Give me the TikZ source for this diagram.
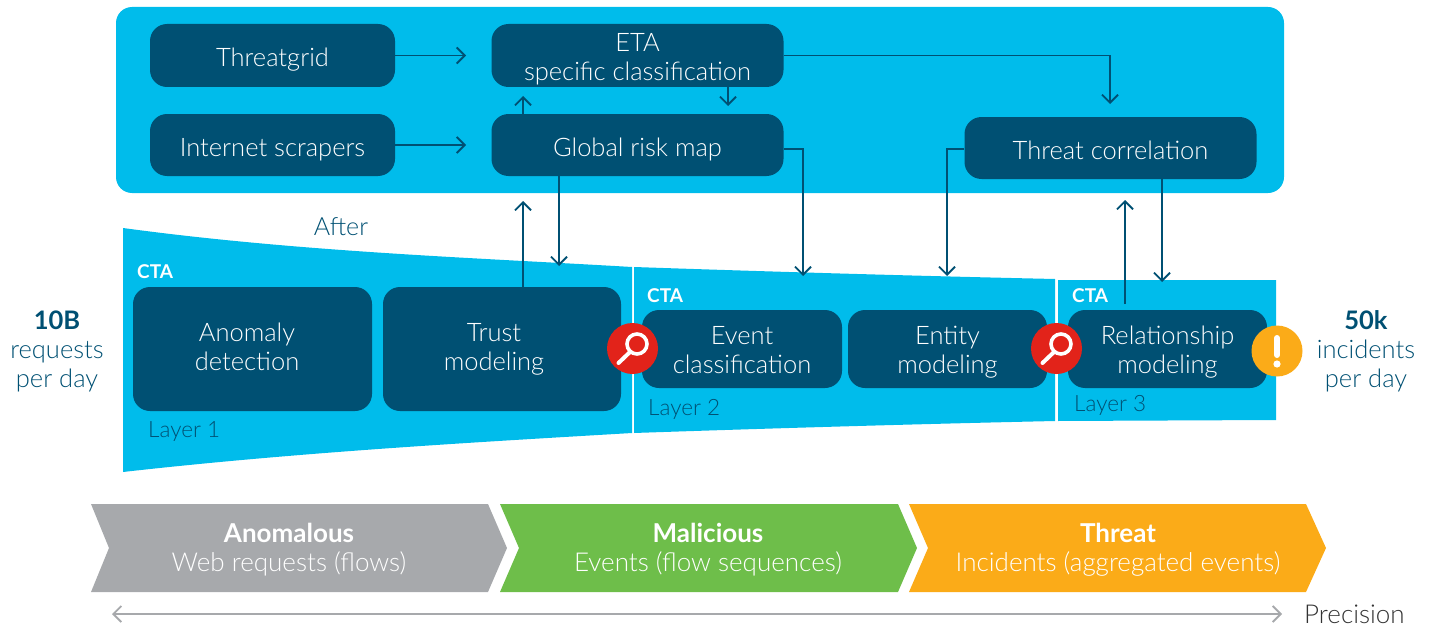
\documentclass[tikz,border=0pt]{standalone}
\usepackage{fontspec}
\setmainfont{Lato Light}[BoldFont={Lato Bold}]
\usetikzlibrary{arrows.meta}
\definecolor{panelblue}{HTML}{00BCEB}
\definecolor{boxblue}{HTML}{005073}
\definecolor{chevgrey}{HTML}{A7A9AC}
\definecolor{chevgreen}{HTML}{6EBE4A}
\definecolor{chevorange}{HTML}{FBAB18}
\definecolor{lensred}{HTML}{E2231A}
\tikzset{
 boxnode/.style={fill=boxblue, text=white, rounded corners=17pt, inner sep=0pt, align=center,
  text depth=0pt, font=\fontsize{25.5}{29}\selectfont},
 drop/.style={text height=#1},
 flow/.style={draw=boxblue, line width=1.8pt, -{Straight Barb[length=8pt,width=16pt,line width=1.8pt]}},
 ctalabel/.style={anchor=west, inner sep=0pt, text=white, font=\fontsize{19}{22}\selectfont\bfseries},
 layerlabel/.style={anchor=west, inner sep=0pt, text=boxblue, font=\fontsize{22.5}{26}\selectfont},
 sidelabel/.style={text=boxblue, align=center, font=\fontsize{25.5}{29}\selectfont},
 chevlabel/.style={text=white, align=center, font=\fontsize{26}{29}\selectfont}
}
\begin{document}
\begin{tikzpicture}[x=1pt,y=-1pt]
 \useasboundingbox (0,0) rectangle (1433,626);
 % backgrounds
 \fill[panelblue, rounded corners=16pt] (116,7) rectangle (1284,193);
 \fill[panelblue] (123,228) .. controls (300,252) and (480,258) .. (632,267) -- (632,433)
  .. controls (480,442) and (300,452) .. (123,472) -- cycle;
 \fill[panelblue] (634,267) .. controls (780,272) and (920,276) .. (1055,279) -- (1055,421)
  .. controls (920,424) and (780,428) .. (634,433) -- cycle;
 \fill[panelblue] (1058,280) -- (1276,280) -- (1276,420) -- (1058,421) -- cycle;
 \fill[chevgrey] (91,504) -- (488,504) -- (507,548) -- (488,592) -- (91,592) -- (109,548) -- cycle;
 \fill[chevgreen] (500,504) -- (898,504) -- (917,548) -- (898,592) -- (500,592) -- (519,548) -- cycle;
 \fill[chevorange] (909,504) -- (1306,504) -- (1326,548) -- (1306,592) -- (909,592) -- (928,548) -- cycle;

 % top panel
 \node[boxnode, drop=22pt, minimum width=245pt, minimum height=63pt] (threatgrid) at (272.5,55.5) {Threatgrid};
 \node[boxnode, drop=23pt, minimum width=245pt, minimum height=62pt] (scrapers) at (272.5,145) {Internet scrapers};
 \node[boxnode, drop=51pt, minimum width=292pt, minimum height=63pt] (eta) at (637.5,55.5) {ETA\\specific classification};
 \node[boxnode, drop=23pt, minimum width=292pt, minimum height=62pt] (global) at (637.5,145) {Global risk map};
 \node[boxnode, drop=23pt, minimum width=292pt, minimum height=62pt] (correlation) at (1110.5,148) {Threat correlation};

 % layers
 \node[boxnode, drop=42pt, minimum width=239pt, minimum height=124pt] (anomaly) at (252.5,349) {Anomaly\hspace*{11pt}\\detection\hspace*{11pt}};
 \node[boxnode, drop=42pt, minimum width=238pt, minimum height=124pt] (trust) at (502,349) {Trust\hspace*{16pt}\\modeling\hspace*{16pt}};
 \node[boxnode, drop=48pt, minimum width=200pt, minimum height=78pt] (event) at (742,349) {Event\\classification};
 \node[boxnode, drop=48pt, minimum width=199pt, minimum height=78pt] (entity) at (947.5,349) {Entity\\modeling};
 \node[boxnode, drop=48pt, minimum width=199pt, minimum height=78pt] (relation) at (1167.5,349) {Relationship\\modeling};

 \node[ctalabel] (ctaa) at (137,272) {CTA};
 \node[ctalabel] (ctab) at (647,296) {CTA};
 \node[ctalabel] (ctac) at (1072,296) {CTA};
 \node[layerlabel] (layera) at (148,431) {Layer 1};
 \node[layerlabel] (layerb) at (648,409) {Layer 2};
 \node[layerlabel] (layerc) at (1074,405) {Layer 3};
 \node[sidelabel, font=\fontsize{25}{29}\selectfont] (after) at (341,227) {After};
 \node[sidelabel] (inleft) at (57,351) {\textbf{10B}\\requests\\per day};
 \node[sidelabel] (inright) at (1366,351) {\textbf{50k}\\incidents\\per day};

 % free ends of the connectors
 \coordinate (gridtip) at (466,55.5);
 \coordinate (scraptip) at (466,145);
 \coordinate (etaup) at (523,96);
 \coordinate (etadown) at (728,106);
 \coordinate (etaout) at (1110,104);
 \coordinate (globalout) at (803,276);
 \coordinate (globaldown) at (559,266);
 \coordinate (trustup) at (523,201);
 \coordinate (corrout) at (947,276);
 \coordinate (corrdown) at (1162,282);
 \coordinate (relup) at (1125,200);
 \coordinate (relstart) at (1125,304);
 \coordinate (precleft) at (112,614);
 \coordinate (precright) at (1282,614);

 \path[every edge/.style={flow}] (threatgrid) edge (gridtip)
  (scrapers) edge (scraptip)
  (etaup |- global.north) edge (etaup)
  (etadown |- eta.south) edge (etadown)
  (globaldown |- global.south) edge (globaldown)
  (trustup |- trust.north) edge (trustup)
  (corrdown |- correlation.south) edge (corrdown)
  (relstart) edge (relup);
 \draw[flow] (eta.east) -| (etaout);
 \draw[flow] ([yshift=-4pt]global.east) -| (globalout);
 \draw[flow] ([yshift=-1pt]correlation.west) -| (corrout);

 % badges
 \foreach \n/\cx in {lensa/632.5,lensb/1056.5}{
  \node[circle, fill=lensred, minimum size=51pt, inner sep=0pt] (\n) at (\cx,348.5) {};
  \draw[white, line width=3.6pt] ([shift={(4.5pt,4.5pt)}]\n.center) circle (10pt);
  \draw[white, line width=4pt, line cap=round] ([shift={(-2.5pt,-3.5pt)}]\n.center) -- ([shift={(-14pt,-14.5pt)}]\n.center);
 }
 \node[circle, fill=chevorange, minimum size=51pt, inner sep=0pt] (warn) at (1277,351) {};
 \draw[white, line width=6pt, line cap=round] ([yshift=13pt]warn.center) -- ([yshift=-4pt]warn.center);
 \fill[white] ([yshift=-13pt]warn.center) circle (3.6pt);

 % bottom row
 \node[chevlabel] (anomalous) at (289,550) {\textbf{Anomalous}\\Web requests (flows)};
 \node[chevlabel] (malicious) at (708,550) {\textbf{Malicious}\\Events (flow sequences)};
 \node[chevlabel] (threat) at (1118,550) {\textbf{Threat}\\Incidents (aggregated events)};
 \node[anchor=west, inner sep=0pt, text=black!80, font=\fontsize{26}{29}\selectfont] (precision) at (1304,614) {Precision};
 \draw[chevgrey, line width=1.8pt, {Straight Barb[length=8pt,width=16pt,line width=1.8pt]}-{Straight Barb[length=8pt,width=16pt,line width=1.8pt]}] (precleft) -- (precright);
\end{tikzpicture}
\end{document}
